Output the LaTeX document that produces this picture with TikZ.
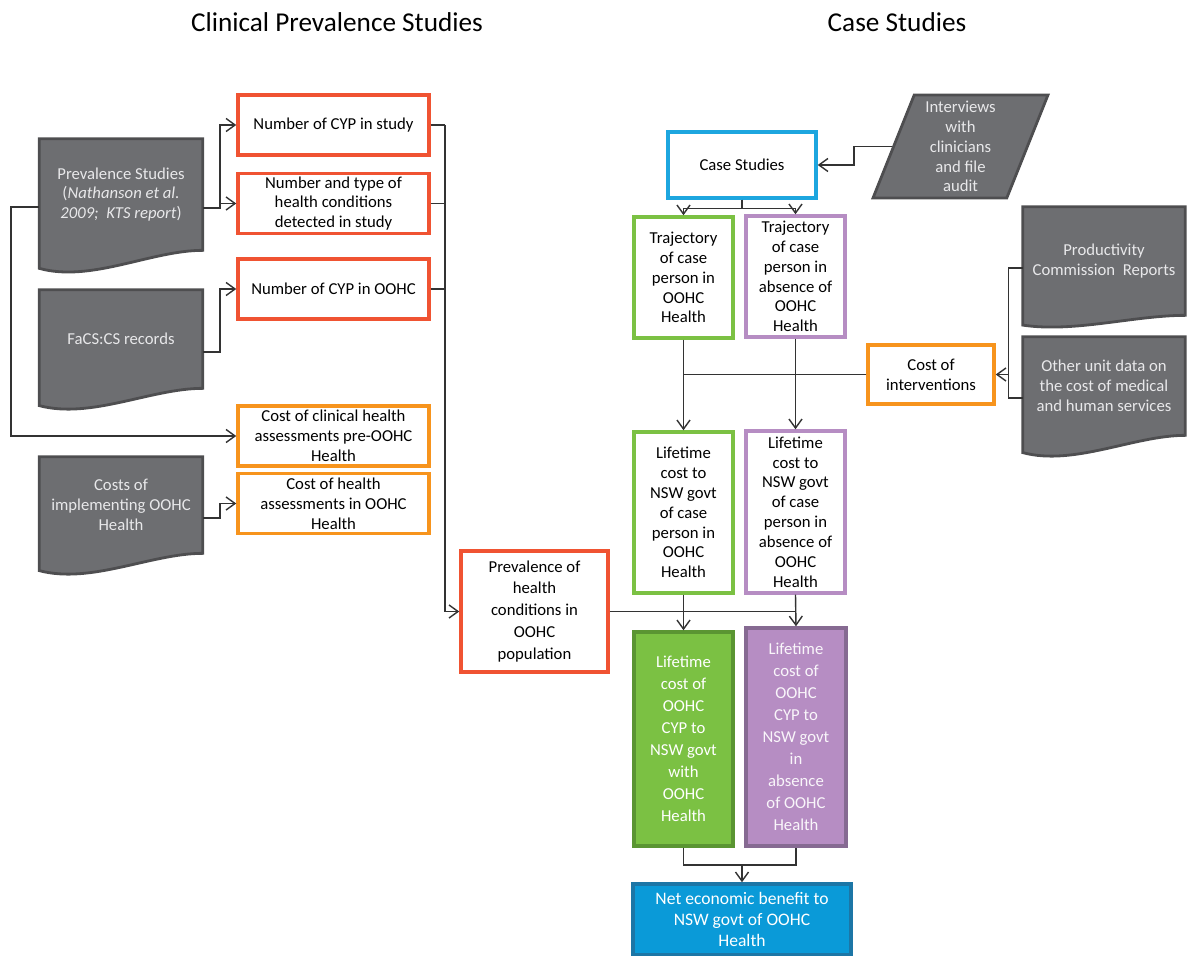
\documentclass[tikz,border=0pt]{standalone}
\usepackage{fontspec}
\setmainfont{Carlito}
\usetikzlibrary{arrows.meta,calc,shapes.geometric,backgrounds}

\definecolor{redline}{HTML}{F05332}
\definecolor{orangeline}{HTML}{F7941D}
\definecolor{blueline}{HTML}{1DA6DF}
\definecolor{greenline}{HTML}{7BC143}
\definecolor{greendark}{HTML}{5A9532}
\definecolor{purpleline}{HTML}{B68DC3}
\definecolor{purpledark}{HTML}{866A92}
\definecolor{netfill}{HTML}{0A9AD8}
\definecolor{netdark}{HTML}{1C76A6}
\definecolor{docgray}{HTML}{6D6E71}
\definecolor{docedge}{HTML}{4E4E50}
\definecolor{doctext}{HTML}{E8E8EA}

\tikzset{
  txt/.style={align=center, font=\fontsize{9.5}{11.3}\selectfont, inner sep=1pt},
  box/.style={txt, draw, line width=2pt, fill=white},
  redbox/.style={box, draw=redline},
  orangebox/.style={box, draw=orangeline},
  bluebox/.style={box, draw=blueline},
  greenbox/.style={box, draw=greenline, minimum width=1.98cm},
  purplebox/.style={box, draw=purpleline, minimum width=1.98cm},
  tallfont/.style={font=\fontsize{9.5}{12.5}\selectfont},
  docbox/.style={txt, text=doctext},
  docfill/.style={fill=docgray, draw=docedge, line width=1.6pt},
  conn/.style={draw=black!80, line width=0.8pt},
  arr/.style={conn, -{Straight Barb[length=1.8mm,width=2.6mm]}},
  title/.style={font=\fontsize{15.5}{18}\selectfont}
}

% document shape behind a node: #1 node, #2 depth of the wave (px)
\newcommand{\docshape}[2]{%
  \filldraw[docfill] (#1.north west) -- (#1.north east) -- (#1.south east)
    .. controls ($(#1.south)+(30,0)$) and ($(#1.south)+(-30,1.35*#2)$) ..
    ($(#1.south west)+(0,0.75*#2)$) -- cycle;}

\begin{document}
\begin{tikzpicture}[x=0.02cm, y=-0.02cm]
  \useasboundingbox (0,0) rectangle (1188,956);

  % Titles
  \node[title] (titleclin) at (337,22) {Clinical Prevalence Studies};
  \node[title] (titlecase) at (897,22) {Case Studies};

  % Clinical prevalence sources
  \node[docbox, minimum width=3.26cm, minimum height=2.22cm] (prevdoc) at (121,194.5)
    {Prevalence Studies\\(\textit{Nathanson et al.}\\\textit{2009;\ \ KTS report})};
  \node[docbox, minimum width=3.26cm, minimum height=1.96cm] (facsdoc) at (121,339) {FaCS:CS records};
  \node[docbox, minimum width=3.26cm, minimum height=1.92cm] (impdoc) at (121,505)
    {Costs of\\implementing OOHC\\Health};

  % Study figures
  \node[redbox, minimum width=3.82cm, minimum height=1.2cm] (ncyp) at (333.5,125) {Number of CYP in study};
  \node[redbox, minimum width=3.82cm, minimum height=1.2cm] (ntype) at (333.5,203.5)
    {Number and type of\\health conditions\\detected in study};
  \node[redbox, minimum width=3.82cm, minimum height=1.2cm] (nooh) at (333.5,289) {Number of CYP in OOHC};
  \node[orangebox, minimum width=3.82cm, minimum height=1.2cm] (costpre) at (333.5,436)
    {Cost of clinical health\\assessments pre-OOHC\\Health};
  \node[orangebox, minimum width=3.82cm, minimum height=1.2cm] (costin) at (333.5,503.5)
    {Cost of health\\assessments in OOHC\\Health};

  % Prevalence
  \node[redbox, tallfont, minimum width=2.94cm, minimum height=2.42cm] (prevbox) at (534.5,611.5)
    {Prevalence of\\health\\conditions in\\OOHC\\population};

  % Case studies
  \node[bluebox, minimum width=2.96cm, minimum height=1.32cm] (casest) at (742,165) {Case Studies};
  \node[trapezium, trapezium left angle=71, trapezium right angle=109, trapezium stretches=true,
    minimum width=3.5cm, minimum height=2.06cm, fill=docgray, draw=docedge, line width=1.6pt,
    txt, text=doctext, inner sep=0pt] (interv) at (960.5,146.5)
    {Interviews\\with\\clinicians\\and file\\audit};

  \node[greenbox, minimum height=2.42cm] (trajgr) at (683.5,277.5)
    {Trajectory\\of case\\person in\\OOHC\\Health};
  \node[purplebox, minimum height=2.42cm] (trajpu) at (795.5,276.5)
    {Trajectory\\of case\\person in\\absence of\\OOHC\\Health};

  % Intervention costs
  \node[orangebox, minimum width=2.52cm, minimum height=1.18cm] (costint) at (931,374.5)
    {Cost of\\interventions};
  \node[docbox, minimum width=3.24cm, minimum height=2.16cm] (proddoc) at (1104,261)
    {Productivity\\Commission\ \ Reports};
  \node[docbox, minimum width=3.24cm, minimum height=1.96cm] (otherdoc) at (1104,386)
    {Other unit data on\\the cost of medical\\and human services};

  % Lifetime costs
  \node[greenbox, minimum height=3.22cm] (lifegr) at (683.5,512.5)
    {Lifetime\\cost to\\NSW govt\\of case\\person in\\OOHC\\Health};
  \node[purplebox, minimum height=3.24cm] (lifepu) at (795.5,512)
    {Lifetime\\cost to\\NSW govt\\of case\\person in\\absence of\\OOHC\\Health};

  \node[box, tallfont, fill=greenline, draw=greendark, text=white, minimum width=1.98cm,
    minimum height=4.28cm] (fillgr) at (683.5,739)
    {Lifetime\\cost of\\OOHC\\CYP to\\NSW govt\\with\\OOHC\\Health};
  \node[box, tallfont, fill=purpleline, draw=purpledark, text=white!92!purpleline, minimum width=2cm,
    minimum height=4.36cm] (fillpu) at (796,737)
    {Lifetime\\cost of\\OOHC\\CYP to\\NSW govt\\in\\absence\\of OOHC\\Health};

  % Net benefit
  \node[box, font=\fontsize{10}{12}\selectfont, fill=netfill, draw=netdark, text=white,
    minimum width=4.36cm, minimum height=1.42cm] (net) at (742,919.5)
    {Net economic benefit to\\NSW govt of OOHC\\Health};

  % document shapes
  \begin{scope}[on background layer]
    \docshape{prevdoc}{24}
    \docshape{facsdoc}{23}
    \docshape{impdoc}{23}
    \docshape{proddoc}{13}
    \docshape{otherdoc}{23}
  \end{scope}

  % Connectors, clinical side
  \draw[arr] ([yshift=-2.7mm]prevdoc.east) -- ++(17,0) |- (ncyp.west);
  \draw[arr] ([yshift=-2.7mm]prevdoc.east) -- ++(17,0) |- (ntype.west);
  \draw[arr] ([yshift=-2.6mm]facsdoc.east) -- ++(17,0) |- (nooh.west);
  \draw[arr] ([yshift=-2.6mm]impdoc.east) -- ++(17,0) |- (costin.west);
  \draw[arr] ([yshift=-2.5mm]prevdoc.west) -- ++(-28,0) |- (costpre.west);

  \coordinate (bus) at (445,0);
  \draw[conn] (ncyp.east) -- (bus |- ncyp.east);
  \draw[conn] (ntype.east) -- (bus |- ntype.east);
  \draw[conn] (nooh.east) -- (bus |- nooh.east);
  \draw[arr] (bus |- ncyp.east) -- (bus |- prevbox.west) -- (prevbox.west);

  % Connectors, case side
  \draw[arr] (interv.west) -- ++(-38,0) |- (casest.east);
  \draw[arr] (casest.south) -- ++(0,9) -| (trajgr.north);
  \draw[arr] (casest.south) -- ++(0,9) -| (trajpu.north);
  \draw[arr] (trajgr.south) -- (lifegr.north);
  \draw[arr] (trajpu.south) -- (lifepu.north);
  \draw[conn] (costint.west) -- (trajgr.south |- costint.west);

  \path ([yshift=-1.4mm]proddoc.west) ++(-14,0) coordinate (prodbus);
  \draw[conn] ([yshift=-1.4mm]proddoc.west) -- (prodbus) |- ([yshift=-2.4mm]otherdoc.west);
  \draw[arr] (prodbus |- costint.east) -- (costint.east);

  \draw[arr] (lifegr.south) -- (fillgr.north);
  \draw[arr] (lifepu.south) -- (fillpu.north);
  \draw[conn] (prevbox.east) -- (lifepu.south |- prevbox.east);

  \coordinate (merge) at (742,865);
  \draw[conn] (fillgr.south) |- (merge) -| (fillpu.south);
  \draw[arr] (merge) -- (net.north);
\end{tikzpicture}
\end{document}
